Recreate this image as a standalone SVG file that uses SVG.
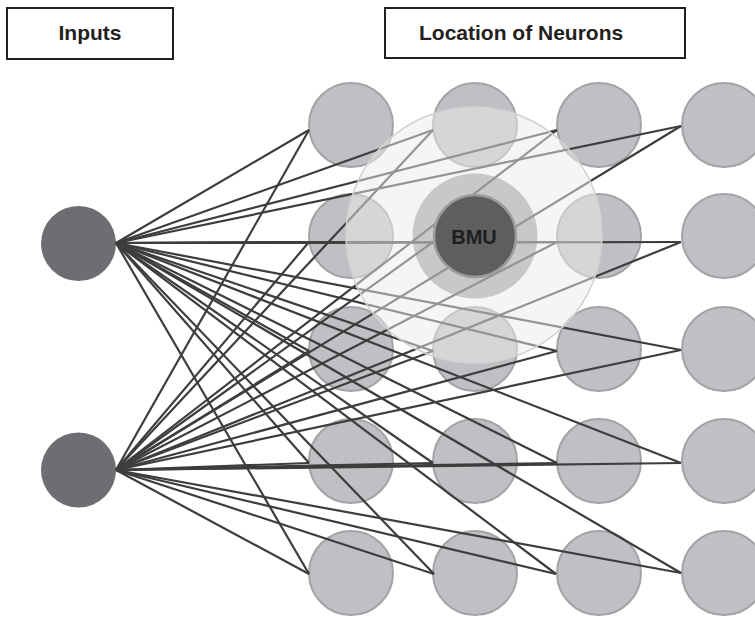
<svg xmlns="http://www.w3.org/2000/svg" width="755" height="618" viewBox="0 0 755 618">
<style>
.hdr{fill:#fff;stroke:#231f20;stroke-width:2}
.ht{font-family:"Liberation Sans",Arial,sans-serif;font-weight:bold;font-size:21px;fill:#231f20}
.n{fill:#bfc0c4;stroke:#a2a3a6;stroke-width:2}
.in{fill:#6d6e71}
.cn line{stroke:#3d3d3d;stroke-width:2.2}
</style>
<rect width="755" height="618" fill="#fff"/>
<g id="header-inputs"><rect class="hdr" x="7" y="8" width="166" height="51"/><text class="ht" x="90" y="40" text-anchor="middle">Inputs</text></g>
<g id="header-neurons"><rect class="hdr" x="385" y="8" width="300" height="50"/><text class="ht" x="419" y="40">Location of Neurons</text></g>
<g id="neurons">
<circle id="n11" class="n" cx="351" cy="125" r="42"/><circle id="n12" class="n" cx="475" cy="125" r="42"/><circle id="n13" class="n" cx="599" cy="125" r="42"/><circle id="n14" class="n" cx="724" cy="125" r="42"/>
<circle id="n21" class="n" cx="351" cy="236" r="42"/><circle id="n23" class="n" cx="599" cy="236" r="42"/><circle id="n24" class="n" cx="724" cy="236" r="42"/>
<circle id="n31" class="n" cx="351" cy="349" r="42"/><circle id="n32" class="n" cx="475" cy="349" r="42"/><circle id="n33" class="n" cx="599" cy="349" r="42"/><circle id="n34" class="n" cx="724" cy="349" r="42"/>
<circle id="n41" class="n" cx="351" cy="461" r="42"/><circle id="n42" class="n" cx="475" cy="461" r="42"/><circle id="n43" class="n" cx="599" cy="461" r="42"/><circle id="n44" class="n" cx="724" cy="461" r="42"/>
<circle id="n51" class="n" cx="351" cy="573" r="42"/><circle id="n52" class="n" cx="475" cy="573" r="42"/><circle id="n53" class="n" cx="599" cy="573" r="42"/><circle id="n54" class="n" cx="724" cy="573" r="42"/>
</g>
<g id="input1"><circle class="in" cx="78.5" cy="243.5" r="37.5"/></g>
<g id="input2"><circle class="in" cx="78.5" cy="470" r="37.5"/></g>
<circle id="bmu-halo" cx="475" cy="236" r="62.5" fill="#a4a5a8"/>
<g id="connectors" class="cn">
<line x1="116" y1="243" x2="309" y2="130"/><line x1="116" y1="243" x2="433" y2="130"/><line x1="116" y1="243" x2="557" y2="130"/><line x1="116" y1="243" x2="681" y2="126"/>
<line x1="116" y1="243" x2="309" y2="242"/><line x1="116" y1="243" x2="433" y2="242"/><line x1="116" y1="243" x2="557" y2="242"/><line x1="116" y1="243" x2="681" y2="242"/>
<line x1="116" y1="243" x2="309" y2="351"/><line x1="116" y1="243" x2="433" y2="351"/><line x1="116" y1="243" x2="557" y2="351"/><line x1="116" y1="243" x2="681" y2="350"/>
<line x1="116" y1="243" x2="309" y2="463"/><line x1="116" y1="243" x2="433" y2="463"/><line x1="116" y1="243" x2="557" y2="463"/><line x1="116" y1="243" x2="681" y2="463"/>
<line x1="116" y1="243" x2="309" y2="574"/><line x1="116" y1="243" x2="434" y2="574"/><line x1="116" y1="243" x2="556" y2="574"/><line x1="116" y1="243" x2="681" y2="573"/>
<line x1="116" y1="470" x2="309" y2="130"/><line x1="116" y1="470" x2="433" y2="130"/><line x1="116" y1="470" x2="557" y2="130"/><line x1="116" y1="470" x2="681" y2="126"/>
<line x1="116" y1="470" x2="309" y2="242"/><line x1="116" y1="470" x2="433" y2="242"/><line x1="116" y1="470" x2="557" y2="242"/><line x1="116" y1="470" x2="681" y2="242"/>
<line x1="116" y1="470" x2="309" y2="351"/><line x1="116" y1="470" x2="433" y2="351"/><line x1="116" y1="470" x2="557" y2="351"/><line x1="116" y1="470" x2="681" y2="350"/>
<line x1="116" y1="470" x2="309" y2="463"/><line x1="116" y1="470" x2="433" y2="463"/><line x1="116" y1="470" x2="557" y2="463"/><line x1="116" y1="470" x2="681" y2="463"/>
<line x1="116" y1="470" x2="309" y2="574"/><line x1="116" y1="470" x2="434" y2="574"/><line x1="116" y1="470" x2="556" y2="574"/><line x1="116" y1="470" x2="681" y2="573"/>
</g>
<circle id="neighbourhood" cx="474" cy="235" r="128" fill="#ececec" fill-opacity="0.5" stroke="#d2d2d2" stroke-width="1.5"/>
<g id="bmu"><circle cx="475" cy="236" r="41" fill="#5e5e60" stroke="#9c9c9e" stroke-width="2.5"/><text x="474" y="244" text-anchor="middle" font-family="'Liberation Sans',Arial,sans-serif" font-weight="bold" font-size="20" fill="#1e1e1e">BMU</text></g>
</svg>
